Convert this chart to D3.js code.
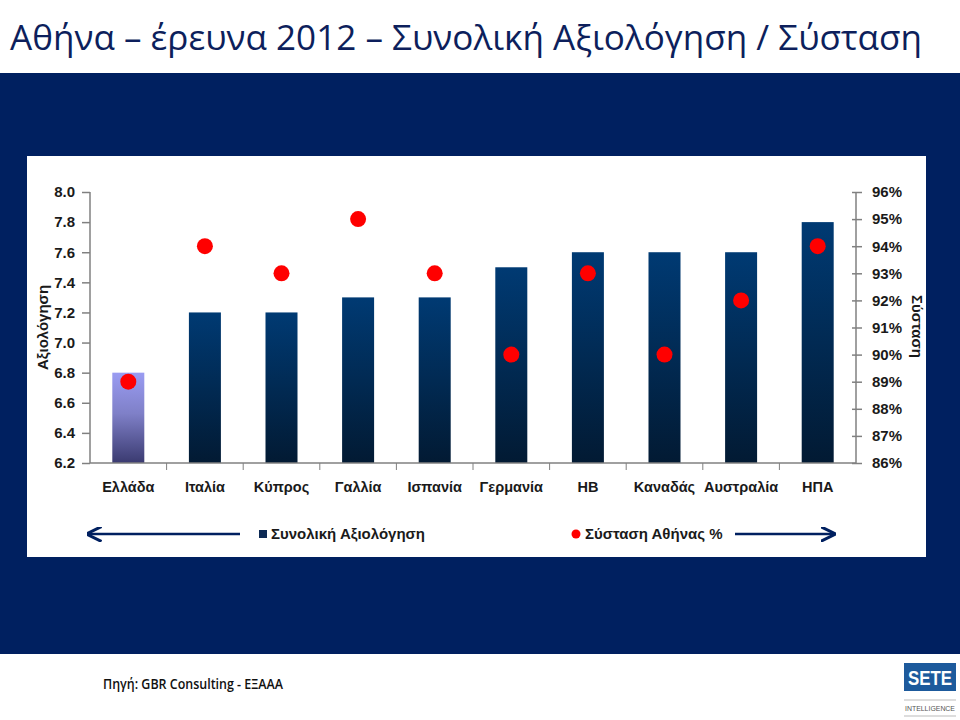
<!DOCTYPE html>
<html>
<head>
<meta charset="utf-8">
<script src="https://cdn.jsdelivr.net/npm/d3@7"></script>
<style>
  body { margin: 0; background: #fff; }
  svg { display: block; }
</style>
</head>
<body>
<svg id="chart" width="960" height="720"></svg>
<script>
const countries = ["Ελλάδα", "Ιταλία", "Κύπρος", "Γαλλία", "Ισπανία", "Γερμανία", "ΗΒ", "Καναδάς", "Αυστραλία", "ΗΠΑ"];
const ratings = [6.8, 7.2, 7.2, 7.3, 7.3, 7.5, 7.6, 7.6, 7.6, 7.8];
const recommend = [89, 94, 93, 95, 93, 90, 93, 90, 92, 94];
const leftTicks = [6.2, 6.4, 6.6, 6.8, 7.0, 7.2, 7.4, 7.6, 7.8, 8.0];
const rightTicks = [86, 87, 88, 89, 90, 91, 92, 93, 94, 95, 96];

const navy = "#002060";
const chartFont = "'Liberation Sans', Arial, sans-serif";
const titleFont = "'Open Sans', 'Noto Sans', sans-serif";

const svg = d3.select("#chart");

// gradients for bars
const defs = svg.append("defs");
const gMain = defs.append("linearGradient").attr("id", "barMain")
  .attr("x1", 0).attr("y1", 0).attr("x2", 0).attr("y2", 1);
gMain.append("stop").attr("offset", "0%").attr("stop-color", "#003a73");
gMain.append("stop").attr("offset", "100%").attr("stop-color", "#021a33");
const gGr = defs.append("linearGradient").attr("id", "barGreece")
  .attr("x1", 0).attr("y1", 0).attr("x2", 0).attr("y2", 1);
gGr.append("stop").attr("offset", "0%").attr("stop-color", "#9a9cf2");
gGr.append("stop").attr("offset", "45%").attr("stop-color", "#7f80c8");
gGr.append("stop").attr("offset", "100%").attr("stop-color", "#3a3a70");

// title band
svg.append("text")
  .attr("x", 10).attr("y", 50)
  .attr("font-family", titleFont)
  .attr("font-size", 35)
  .attr("fill", "#0d1f5c")
  .attr("textLength", 912)
  .attr("lengthAdjust", "spacingAndGlyphs")
  .text("Αθήνα – έρευνα 2012 – Συνολική Αξιολόγηση / Σύσταση");

// navy background
svg.append("rect").attr("x", 0).attr("y", 73).attr("width", 960).attr("height", 581).attr("fill", navy);

// white chart panel
svg.append("rect").attr("x", 27).attr("y", 156).attr("width", 899).attr("height", 401).attr("fill", "#fff");

const plot = { left: 90, right: 856, top: 192, bottom: 463 };

const x = d3.scaleBand().domain(countries).range([plot.left, plot.right]).paddingInner(0).paddingOuter(0);
const yL = d3.scaleLinear().domain([6.2, 8.0]).range([plot.bottom, plot.top]);
const yR = d3.scaleLinear().domain([86, 96]).range([plot.bottom, plot.top]);

const barW = 32;

// bars
svg.append("g").selectAll("rect")
  .data(countries)
  .join("rect")
  .attr("x", d => x(d) + x.bandwidth() / 2 - barW / 2)
  .attr("y", (d, i) => yL(ratings[i]))
  .attr("width", barW)
  .attr("height", (d, i) => yL(6.2) - yL(ratings[i]))
  .attr("fill", (d, i) => i === 0 ? "url(#barGreece)" : "url(#barMain)");

// axes
const axisColor = "#808080";
const leftAxis = svg.append("g")
  .attr("transform", `translate(${plot.left},0)`)
  .call(d3.axisLeft(yL).tickValues(leftTicks).tickFormat(d3.format(".1f")).tickSize(8).tickPadding(7));
const rightAxis = svg.append("g")
  .attr("transform", `translate(${plot.right},0)`)
  .call(d3.axisRight(yR).tickValues(rightTicks).tickFormat(d => d + "%").tickSize(6).tickPadding(10));
rightAxis.selectAll(".tick line").attr("x1", -4);

const xAxis = svg.append("g")
  .attr("transform", `translate(0,${plot.bottom})`)
  .call(d3.axisBottom(x).tickSize(0).tickPadding(19));

// category separator ticks
svg.append("g").selectAll("line")
  .data(countries.slice(1))
  .join("line")
  .attr("x1", d => x(d)).attr("x2", d => x(d))
  .attr("y1", plot.bottom).attr("y2", plot.bottom + 7)
  .attr("stroke", axisColor);

[leftAxis, rightAxis, xAxis].forEach(a => {
  a.select(".domain").attr("stroke", axisColor).attr("stroke-width", 1.5);
  a.selectAll(".tick line").attr("stroke", axisColor).attr("stroke-width", 1.5);
  a.selectAll("text").attr("font-family", chartFont).attr("font-weight", "bold")
    .attr("font-size", 15).attr("fill", "#1a1a1a");
});
leftAxis.select(".domain").attr("d", `M0,${plot.bottom}V${plot.top}`);
rightAxis.select(".domain").attr("d", `M0,${plot.bottom}V${plot.top}`);
xAxis.select(".domain").attr("d", `M${plot.left},0H${plot.right}`);
xAxis.selectAll("text").attr("font-size", 14.5);

// points
svg.append("g").selectAll("circle")
  .data(countries)
  .join("circle")
  .attr("cx", d => x(d) + x.bandwidth() / 2)
  .attr("cy", (d, i) => yR(recommend[i]))
  .attr("r", 8)
  .attr("fill", "#ff0000");

// axis titles
svg.append("text")
  .attr("transform", `translate(48,${(plot.top + plot.bottom) / 2}) rotate(-90)`)
  .attr("text-anchor", "middle")
  .attr("font-family", chartFont).attr("font-weight", "bold").attr("font-size", 15)
  .attr("fill", "#1a1a1a")
  .text("Αξιολόγηση");
svg.append("text")
  .attr("transform", `translate(912,${(plot.top + plot.bottom) / 2 - 1}) rotate(90)`)
  .attr("text-anchor", "middle")
  .attr("font-family", chartFont).attr("font-weight", "bold").attr("font-size", 15)
  .attr("fill", "#1a1a1a")
  .text("Σύσταση");

// legend arrows
const legY = 534;
defs.append("marker").attr("id", "arrowHead")
  .attr("viewBox", "0 0 10 10").attr("refX", 9).attr("refY", 5)
  .attr("markerWidth", 6).attr("markerHeight", 6).attr("orient", "auto-start-reverse")
  .append("path").attr("d", "M0,0 L10,5 L0,10").attr("fill", "none").attr("stroke", navy).attr("stroke-width", 2);
svg.append("line").attr("x1", 88).attr("x2", 240).attr("y1", legY).attr("y2", legY)
  .attr("stroke", navy).attr("stroke-width", 2.5).attr("marker-start", "url(#arrowHead)");
svg.append("line").attr("x1", 735).attr("x2", 834).attr("y1", legY).attr("y2", legY)
  .attr("stroke", navy).attr("stroke-width", 2.5).attr("marker-end", "url(#arrowHead)");

svg.append("rect").attr("x", 259).attr("y", legY - 4).attr("width", 8).attr("height", 8).attr("fill", "#0d2a55");
svg.append("text").attr("x", 271).attr("y", legY + 5)
  .attr("font-family", chartFont).attr("font-weight", "bold").attr("font-size", 15)
  .attr("fill", "#1a1a1a").text("Συνολική Αξιολόγηση");
svg.append("circle").attr("cx", 576).attr("cy", legY).attr("r", 4.5).attr("fill", "#ff0000");
svg.append("text").attr("x", 585).attr("y", legY + 5)
  .attr("font-family", chartFont).attr("font-weight", "bold").attr("font-size", 15)
  .attr("fill", "#1a1a1a").text("Σύσταση Αθήνας %");

// footer
svg.append("text").attr("x", 103).attr("y", 689)
  .attr("font-family", titleFont).attr("font-size", 14).attr("font-weight", 600)
  .attr("fill", "#111")
  .attr("textLength", 180).attr("lengthAdjust", "spacingAndGlyphs")
  .text("Πηγή: GBR Consulting -  ΕΞΑΑΑ");

// logo
svg.append("rect").attr("x", 904).attr("y", 663).attr("width", 52).attr("height", 28).attr("fill", "#1d5a9c");
svg.append("text").attr("x", 908).attr("y", 685)
  .attr("font-family", chartFont).attr("font-weight", "bold")
  .attr("font-size", 20).attr("fill", "#fff")
  .attr("textLength", 44).attr("lengthAdjust", "spacingAndGlyphs").text("SETE");
svg.append("line").attr("x1", 904).attr("x2", 956).attr("y1", 700).attr("y2", 700).attr("stroke", "#bbb");
svg.append("text").attr("x", 930).attr("y", 711).attr("text-anchor", "middle")
  .attr("font-family", chartFont).attr("font-size", 6.5).attr("fill", "#555")
  .attr("textLength", 50).attr("lengthAdjust", "spacingAndGlyphs").text("INTELLIGENCE");
svg.append("line").attr("x1", 904).attr("x2", 956).attr("y1", 716).attr("y2", 716).attr("stroke", "#bbb");
</script>
</body>
</html>
